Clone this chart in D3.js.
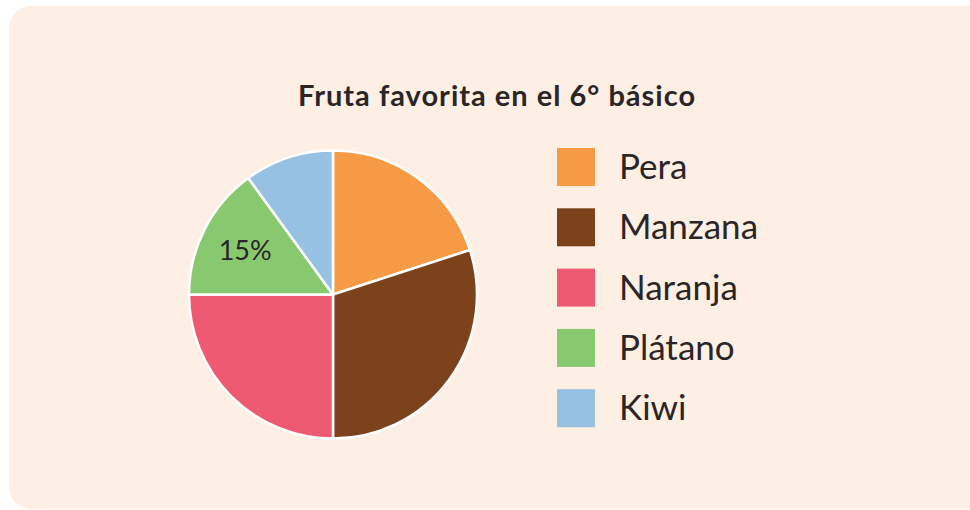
<!DOCTYPE html>
<html>
<head>
<meta charset="utf-8">
<script src="https://cdn.jsdelivr.net/npm/d3@7"></script>
<style>
  html, body { margin: 0; padding: 0; background: #ffffff; }
  svg { display: block; }
</style>
</head>
<body>
<svg id="chart" width="970" height="510"></svg>
<script>
const title = "Fruta favorita en el 6° básico";
const categories = ["Pera", "Manzana", "Naranja", "Plátano", "Kiwi"];
const values = [20, 30, 25, 15, 10];
const colors = ["#F79A45", "#7B421C", "#EF5A73", "#88C970", "#96C1E2"];
const shownLabels = [null, null, null, "15%", null];

const svg = d3.select("#chart");
const font = "Lato, 'Open Sans', sans-serif";

svg.append("rect")
  .attr("x", 9).attr("y", 6).attr("width", 985).attr("height", 503)
  .attr("rx", 22).attr("ry", 22)
  .attr("fill", "#FDEFE3");

svg.append("text")
  .attr("x", 497).attr("y", 106)
  .attr("text-anchor", "middle")
  .attr("font-family", font)
  .attr("font-weight", "bold")
  .attr("font-size", 29)
  .attr("letter-spacing", 1)
  .attr("fill", "#2a2526")
  .text(title);

const data = categories.map((c, i) => ({ name: c, value: values[i], color: colors[i], label: shownLabels[i] }));

const pie = d3.pie().value(d => d.value).sort(null);
const radius = 144;
const arc = d3.arc().innerRadius(0).outerRadius(radius);
const labelArc = d3.arc().innerRadius(radius * 0.685).outerRadius(radius * 0.685);

const g = svg.append("g").attr("transform", "translate(333,294.5)");
const arcs = pie(data);

g.selectAll("path").data(arcs).join("path")
  .attr("d", arc)
  .attr("fill", d => d.data.color)
  .attr("stroke", "#ffffff")
  .attr("stroke-width", 2.5)
  .attr("stroke-linejoin", "round");

g.selectAll("text.lbl").data(arcs.filter(d => d.data.label)).join("text")
  .attr("class", "lbl")
  .attr("x", d => labelArc.centroid(d)[0])
  .attr("y", d => labelArc.centroid(d)[1])
  .attr("text-anchor", "middle")
  .attr("dominant-baseline", "central")
  .attr("font-family", font)
  .attr("font-size", 27)
  .attr("fill", "#2a2526")
  .text(d => d.data.label);

const legend = svg.append("g").attr("transform", "translate(557,148)");
const item = legend.selectAll("g").data(data).join("g")
  .attr("transform", (d, i) => `translate(0,${i * 60.3})`);
item.append("rect")
  .attr("width", 38).attr("height", 38)
  .attr("fill", d => d.color);
item.append("text")
  .attr("x", 62).attr("y", 31)
  .attr("font-family", font)
  .attr("font-size", 35)
  .attr("fill", "#2a2526")
  .text(d => d.name);
</script>
</body>
</html>
